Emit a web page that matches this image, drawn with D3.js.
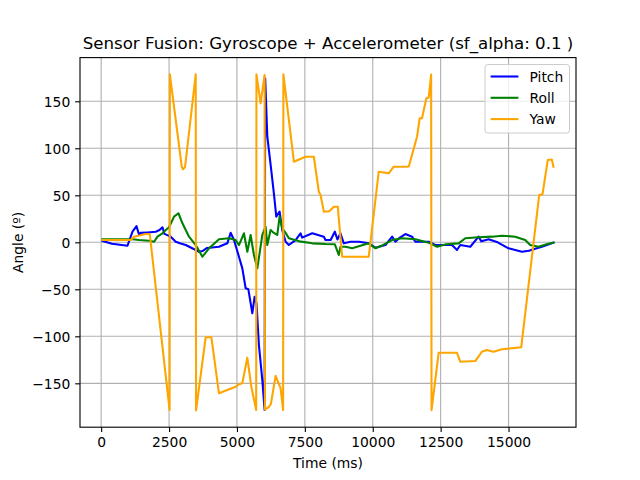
<!DOCTYPE html>
<html><head><meta charset="utf-8">
<script src="https://cdn.jsdelivr.net/npm/d3@7"></script>
<style>
body{margin:0;background:#fff;}
text{font-family:"DejaVu Sans",sans-serif;fill:#000;}
</style></head>
<body>
<svg id="chart" width="640" height="480"></svg>
<script>
const titleText = "Sensor Fusion: Gyroscope + Accelerometer (sf_alpha: 0.1 )";
const xLabel = "Time (ms)";
const yLabel = "Angle (º)";
const seriesNames = ["Pitch", "Roll", "Yaw"];
const seriesColors = ["blue", "green", "orange"];
const xTicks = [0, 2500, 5000, 7500, 10000, 12500, 15000];
const yTicks = [-150, -100, -50, 0, 50, 100, 150];

const pitchT = [51,400,970,1154,1301,1397,1450,1700,2011,2150,2257,2330,2562,2746,2900,3114,3482,3600,3728,3900,4338,4646,4768,4890,5074,5198,5320,5420,5566,5651,5720,5809,5934,6018,6040,6118,6250,6360,6448,6570,6669,6790,6912,7158,7342,7400,7772,8199,8261,8450,8603,8700,8812,8934,9180,9500,9853,10099,10467,10713,10835,11000,11202,11448,11570,12059,12305,12919,13103,13224,13592,13897,14000,14265,14600,15000,15493,15750,15919,16228,16654];
const pitchV = [1.4,-1.5,-3.6,11.3,17.3,7.8,10,10.5,11.3,13,16,9,6,0.6,-1,-2.9,-8.2,-10,-9.3,-6,-4.7,-1.1,10.2,2.4,-15.3,-27.7,-48.9,-50,-75.5,-57.9,-65,-109.3,-146.5,-178.4,174.5,112.3,80,52,27.3,32.6,13.1,0.6,-2.9,2.4,9.6,5,9.6,6,2.4,2.4,11.3,3,9.6,-1.1,0.6,0.6,-1.1,-5.7,-2.9,6,0.6,5,8.8,6,0.6,0.6,-2.9,-2.9,-8.2,-2.9,-4.7,6,1,3.2,0,-6.4,-10,-9,-7.4,-4.7,-0.4];

const rollT = [51,1154,1400,1765,1949,2073,2257,2379,2500,2684,2846,2993,3235,3482,3728,3971,4338,4706,4952,5074,5257,5382,5504,5625,5750,5934,6055,6118,6239,6360,6485,6570,6669,6790,6912,7300,7772,8261,8600,8750,8812,9000,9243,9853,10099,10300,10713,11081,11570,12059,12367,12700,13162,13408,13897,14390,14757,15246,15614,15798,16103,16400,16654];
const rollV = [3.2,3.2,2.5,1.7,0.6,6,9.6,13.1,16,27.3,30.9,20.2,6,-2.9,-15.3,-6.4,3.2,4.3,2.4,-2.9,9.6,-10,7.8,-13.5,-27.7,7.8,16.6,-2.9,13.1,10,7.8,27.3,14.9,10,4.3,1,-1.1,-1.8,-2,-13.5,-4.7,-4.7,-6.4,-1.1,-6.4,-4,2.4,4.3,3.2,-0.4,-4.7,-2,-1.1,4.3,5.3,6,7,6,2.4,-2.9,-4.7,-2,-0.4];

const yawT = [51,1092,1213,1643,1790,2520,2530,2967,3015,3088,3482,3495,3849,4058,4338,4952,5074,5198,5382,5529,5708,5718,5871,6018,6030,6177,6250,6423,6607,6700,6710,7096,7526,7831,8015,8080,8199,8400,8566,8713,8873,9853,10221,10588,10772,11263,11330,11631,11728,11815,11974,12060,12150,12165,12428,13100,13224,13776,14018,14200,14449,14757,15467,16129,16250,16446,16594,16654];
const yawV = [2.4,2.4,6,8.8,8.8,-178.4,178.6,80.4,77.6,80,178.6,-178.8,-101,-101,-160.6,-153.6,-151,-150,-122.7,-153.6,-178.4,178.6,147.8,178,-178,-175,-172,-142,-155,-178.4,178.6,85.7,91,91,53.8,50,32.6,33,37.9,37.9,-15.3,-15.3,75.1,73.4,80.4,80.4,81,112.3,131.9,131.9,153.2,154,178.4,-178.6,-117.4,-117.4,-127,-126.3,-116.4,-114.5,-116.4,-113.8,-111.7,50.3,51,87.6,88,80.4];

const svg = d3.select("#chart");
const L = 80, R = 576, T = 57.6, B = 427.2;
const fs = 13.89, pt = 1.389;

const allT = pitchT.concat(rollT, yawT);
const allV = pitchV.concat(rollV, yawV);
const tMin = d3.min(allT), tMax = d3.max(allT);
const vMin = d3.min(allV), vMax = d3.max(allV);
const tPad = (tMax - tMin) * 0.05, vPad = (vMax - vMin) * 0.05;

const x = d3.scaleLinear().domain([tMin - tPad, tMax + tPad]).range([L, R]);
const y = d3.scaleLinear().domain([vMin - vPad, vMax + vPad]).range([B, T]);

// grid
const g = svg.append("g");
g.selectAll(".gx").data(xTicks).enter().append("line")
  .attr("x1", d => x(d)).attr("x2", d => x(d)).attr("y1", T).attr("y2", B)
  .attr("stroke", "#b0b0b0").attr("stroke-width", 0.8 * pt);
g.selectAll(".gy").data(yTicks).enter().append("line")
  .attr("y1", d => y(d)).attr("y2", d => y(d)).attr("x1", L).attr("x2", R)
  .attr("stroke", "#b0b0b0").attr("stroke-width", 0.8 * pt);

// axes
const xAxis = d3.axisBottom(x).tickValues(xTicks).tickSize(3.5 * pt).tickFormat(d3.format("d"));
const yAxis = d3.axisLeft(y).tickValues(yTicks).tickSize(3.5 * pt).tickFormat(d => d < 0 ? "\u2212" + Math.abs(d) : String(d));
const gx = svg.append("g").attr("transform", `translate(0,${B})`).call(xAxis);
const gy = svg.append("g").attr("transform", `translate(${L},0)`).call(yAxis);
[gx, gy].forEach(a => {
  a.select(".domain").remove();
  a.selectAll(".tick line").attr("stroke", "#000").attr("stroke-width", 0.8 * pt);
  a.selectAll(".tick text").attr("font-size", fs + "px").attr("font-family", "DejaVu Sans");
});
gx.selectAll(".tick text").attr("dy", "0.73em").attr("y", 7 * pt);
gy.selectAll(".tick text").attr("dy", "0.36em").attr("x", -7 * pt);

// clip
svg.append("clipPath").attr("id", "clip").append("rect")
  .attr("x", L).attr("y", T).attr("width", R - L).attr("height", B - T);

const line = d3.line().x(d => x(d[0])).y(d => y(d[1]));
const series = [
  d3.zip(pitchT, pitchV),
  d3.zip(rollT, rollV),
  d3.zip(yawT, yawV)
];
const lg = svg.append("g").attr("clip-path", "url(#clip)");
series.forEach((s, i) => {
  lg.append("path").attr("d", line(s)).attr("fill", "none")
    .attr("stroke", seriesColors[i]).attr("stroke-width", 1.5 * pt)
    .attr("stroke-linejoin", "round").attr("stroke-linecap", "square");
});

// frame
svg.append("rect").attr("x", L).attr("y", T).attr("width", R - L).attr("height", B - T)
  .attr("fill", "none").attr("stroke", "#000").attr("stroke-width", 0.8 * pt);

// title & labels
svg.append("text").attr("x", (L + R) / 2).attr("y", 49).attr("text-anchor", "middle")
  .attr("font-size", (12 * pt) + "px").text(titleText);
svg.append("text").attr("x", (L + R) / 2).attr("y", 468).attr("text-anchor", "middle")
  .attr("font-size", fs + "px").text(xLabel);
svg.append("text").attr("transform", `translate(23,${(T + B) / 2}) rotate(-90)`)
  .attr("text-anchor", "middle").attr("font-size", fs + "px").text(yLabel);

// legend
const leg = svg.append("g");
leg.append("rect").attr("x", 485).attr("y", 64.5).attr("width", 84.5).attr("height", 68.5)
  .attr("rx", 2.8).attr("fill", "#fff").attr("fill-opacity", 0.8)
  .attr("stroke", "#cccccc").attr("stroke-width", 1);
seriesNames.forEach((n, i) => {
  const cy = 76.5 + i * 21.3;
  leg.append("line").attr("x1", 490.6).attr("x2", 518.4).attr("y1", cy).attr("y2", cy)
    .attr("stroke", seriesColors[i]).attr("stroke-width", 1.5 * pt);
  leg.append("text").attr("x", 529.5).attr("y", cy + 5).attr("font-size", fs + "px").text(n);
});
</script>
</body></html>
